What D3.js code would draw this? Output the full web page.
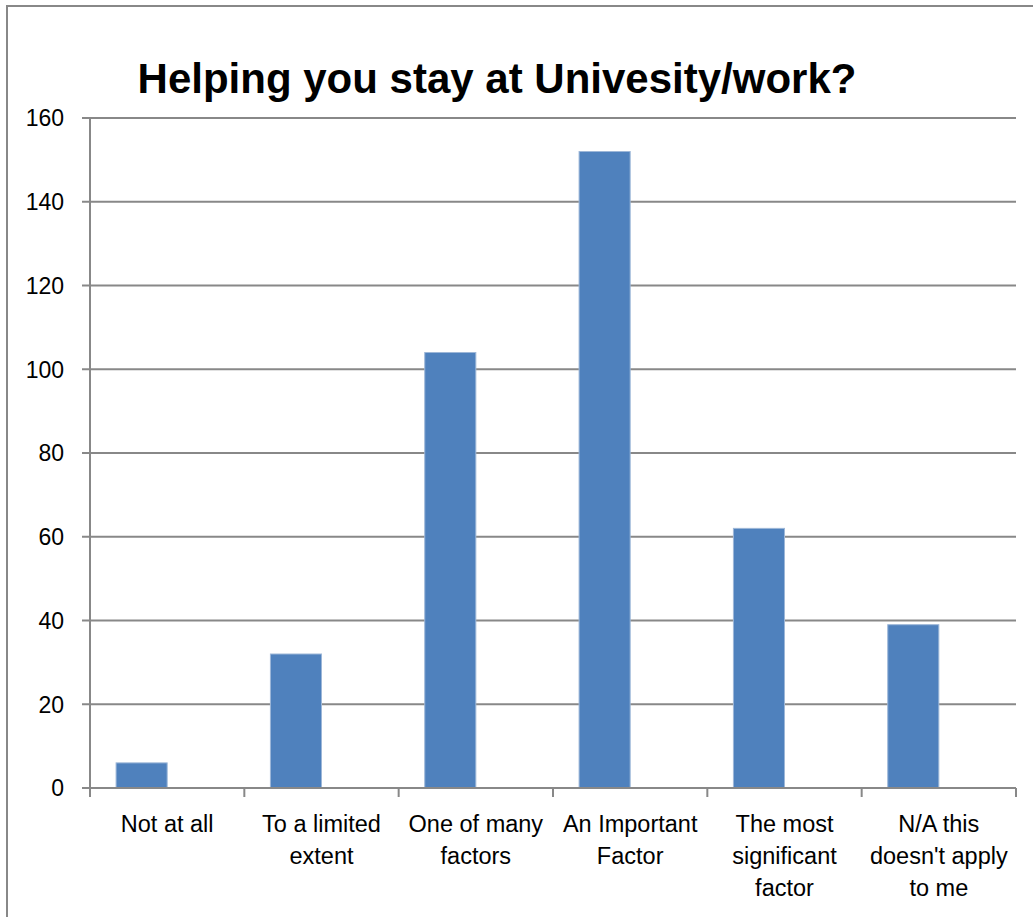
<!DOCTYPE html>
<html>
<head>
<meta charset="utf-8">
<script src="https://cdn.jsdelivr.net/npm/d3@7"></script>
<style>
  body { margin: 0; background: #fff; }
  svg { display: block; font-family: "Liberation Sans", Arial, sans-serif; }
</style>
</head>
<body>
<div class="chart-container"></div>
<script>
// data
const categories = ["Not at all", "To a limited extent", "One of many factors",
    "An Important Factor", "The most significant factor", "N/A this doesn't apply to me"];
const labelLines = [["Not at all"], ["To a limited", "extent"], ["One of many", "factors"],
    ["An Important", "Factor"], ["The most", "significant", "factor"], ["N/A this", "doesn't apply", "to me"]];
const counts = [6, 32, 104, 152, 62, 39];
const series = ["Count", "(empty)"];
const yTicks = [0, 20, 40, 60, 80, 100, 120, 140, 160];
const title = "Helping you stay at Univesity/work?";

function draw() {
    const width = 1033;
    const height = 917;
    const left = 90, right = 1016, top = 118, bottom = 788;
    const gridColor = "#888888";

    const svg = d3.select(".chart-container").append("svg")
        .attr("width", width)
        .attr("height", height);

    // outer chart border (right and bottom fall outside the picture)
    svg.append("rect")
        .attr("x", 7).attr("y", 6)
        .attr("width", width + 20).attr("height", height + 20)
        .attr("fill", "none")
        .attr("stroke", gridColor)
        .attr("stroke-width", 2);

    const x = d3.scaleBand()
        .domain(categories)
        .range([left, right])
        .paddingInner(0.338)
        .paddingOuter(0.169);

    const xInner = d3.scaleBand()
        .domain(series)
        .range([0, x.bandwidth()]);

    const y = d3.scaleLinear()
        .domain([0, 160])
        .range([bottom, top]);

    // gridlines
    svg.append("g")
        .selectAll("line")
        .data(yTicks)
        .join("line")
        .attr("x1", left - 8)
        .attr("x2", right)
        .attr("y1", d => y(d))
        .attr("y2", d => y(d))
        .attr("stroke", gridColor)
        .attr("stroke-width", 2);

    // y labels
    svg.append("g")
        .selectAll("text")
        .data(yTicks)
        .join("text")
        .attr("x", 64)
        .attr("y", d => y(d))
        .attr("dy", "0.36em")
        .attr("text-anchor", "end")
        .attr("font-size", 23)
        .attr("fill", "#000")
        .text(d => d);

    // bars
    svg.append("g")
        .selectAll("rect")
        .data(counts)
        .join("rect")
        .attr("x", (d, i) => x(categories[i]) + xInner("Count"))
        .attr("y", d => y(d))
        .attr("width", xInner.bandwidth())
        .attr("height", d => y(0) - y(d))
        .attr("fill", "#4F81BD")
        .attr("stroke", "#9DB7D8")
        .attr("stroke-width", 1);

    // y axis line
    svg.append("line")
        .attr("x1", left).attr("x2", left)
        .attr("y1", top).attr("y2", bottom + 9)
        .attr("stroke", gridColor)
        .attr("stroke-width", 2);

    // x axis line + category boundary ticks
    svg.append("line")
        .attr("x1", left).attr("x2", right)
        .attr("y1", bottom).attr("y2", bottom)
        .attr("stroke", gridColor)
        .attr("stroke-width", 2);

    const step = x.step();
    svg.append("g")
        .selectAll("line")
        .data(categories)
        .join("line")
        .attr("x1", d => x(d) - x.paddingOuter() * step + step)
        .attr("x2", d => x(d) - x.paddingOuter() * step + step)
        .attr("y1", bottom)
        .attr("y2", bottom + 9)
        .attr("stroke", gridColor)
        .attr("stroke-width", 2);

    // category labels
    const lab = svg.append("g")
        .selectAll("text")
        .data(categories)
        .join("text")
        .attr("text-anchor", "middle")
        .attr("font-size", 23.5)
        .attr("fill", "#000")
        .attr("transform", d => `translate(${x(d) + x.bandwidth() / 2},832)`);

    lab.selectAll("tspan")
        .data((d, i) => labelLines[i])
        .join("tspan")
        .attr("x", 0)
        .attr("y", (d, i) => i * 32)
        .text(d => d);

    svg.append("text")
        .attr("x", 497)
        .attr("y", 93)
        .attr("text-anchor", "middle")
        .attr("font-size", 42)
        .attr("font-weight", "bold")
        .attr("fill", "#000")
        .text(title);
}

draw();
</script>
</body>
</html>
